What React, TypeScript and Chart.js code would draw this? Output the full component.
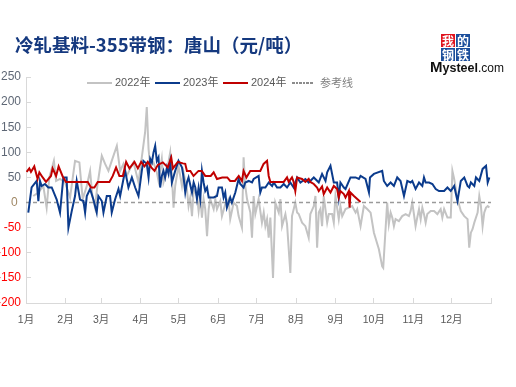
import React, { useEffect, useRef } from 'react';
import { Chart, registerables } from 'chart.js';

Chart.register(...registerables);

// x = day of year (0..365), y = price spread (元/吨)
const monthStarts = [0, 31, 59, 90, 120, 151, 181, 212, 243, 273, 304, 334, 365];
const monthLabels = ['1月', '2月', '3月', '4月', '5月', '6月', '7月', '8月', '9月', '10月', '11月', '12月', ''];
const yMin = -200;
const yMax = 250;
const yStep = 50;

const refLine: [number, number][] = [[0, 0], [365, 0]];

const series2024: [number, number][] = [
  [0.5, 61], [2, 66], [2.6, 68], [3.9, 61], [6.5, 72], [9.1, 47], [10.5, 60], [13.1, 50], [15.7, 41], [19.6, 53],
  [20.9, 68], [23.6, 53], [25.6, 72], [28.8, 52], [31.4, 41], [48.5, 41], [51, 30], [53.7, 30], [56.3, 41], [65.5, 41],
  [68.1, 53], [70.7, 70], [73.3, 53], [76, 53], [78.6, 81], [81.2, 68], [85.1, 81], [87.8, 68], [90.4, 81], [93, 72],
  [95.6, 81], [98.3, 70], [100.9, 63], [103.5, 75], [107.4, 80], [111.3, 70], [114, 90], [115.3, 68], [119.2, 81], [123.1, 78],
  [125, 77], [126.3, 63], [129, 63], [131.5, 53], [135.4, 63], [138, 63], [140.7, 53], [145, 53], [147.3, 60], [149.9, 47],
  [154, 50], [158, 50], [160.3, 43], [164, 43], [167, 53], [169.5, 43], [170.8, 63], [173, 50], [176, 63], [183.9, 63],
  [186.5, 77], [189.2, 83], [190.5, 53], [191.8, 41], [202.3, 41], [204.9, 50], [206.2, 41], [208.8, 50], [210.1, 41], [211.4, 23],
  [212.8, 50], [216.7, 47], [219.3, 41], [221.9, 47], [223.2, 41], [225.9, 37], [228.5, 30], [229.8, 23], [232.4, 32], [233.7, 17],
  [236.4, 30], [239, 20], [241.6, 33], [244.2, 27], [245.5, 10], [246.8, 23], [249.5, 17], [250.8, 10], [253.4, 23], [254, -10],
  [254.7, 20], [257.4, 13], [260, 7], [262.6, 1],
];

const series2023: [number, number][] = [
  [1.8, -20], [4.4, 30], [8.4, 43], [9.7, 3], [11, 43], [12.3, 33], [14.9, 37], [17.5, 30], [20.2, 30], [24.1, 6],
  [26.7, -20], [29.3, 50], [31.9, 50], [33.3, -50], [35.9, -17], [38.5, 13], [39.8, 43], [42.4, 6], [45.1, 3], [46.4, -20],
  [47.7, 13], [50.3, 27], [52.9, 6], [55.5, -20], [56.8, 13], [59.5, 3], [60.8, -20], [63.4, 13], [66, 13], [67.3, -20],
  [69.9, 6], [72.6, 27], [73.9, 13], [76.5, 47], [77.8, 63], [80.4, 30], [83.1, 50], [85.7, 30], [88.3, 13], [90.9, 63],
  [92.2, 83], [94.8, 77], [96.2, 50], [97.5, 87], [98.8, 80], [100.1, 100], [101.4, 113], [102.7, 83], [104, 90], [105.3, 30],
  [106.6, 53], [107.9, 63], [109.2, 50], [110.6, 70], [111.9, 57], [113.2, 80], [114.5, 40], [117.1, 63], [119.7, 83], [122.4, 70],
  [123.7, 50], [125, 20], [126.3, 40], [127.6, 50], [130.3, 20], [131.6, 40], [132.9, 30], [134.2, 7], [135.5, 30], [136.8, 7],
  [138.1, 63], [139.4, 40], [140.7, 23], [142.1, 30], [143.4, 10], [147.3, 10], [149.9, 13], [151.2, 30], [153.8, 30], [155.1, 10],
  [156.4, 20], [157.7, -10], [160.3, 10], [161.6, 0], [164.3, 20], [166.9, 47], [168.2, 37], [170.8, 30], [172.1, 40], [174.8, 43],
  [177.4, 40], [178.7, 47], [182.6, 53], [183.9, 20], [185.2, 30], [187.9, 30], [190.5, 40], [193.2, 33], [194.5, 40], [197.1, 30],
  [199.7, 30], [202.3, 37], [204.9, 30], [207.5, 40], [210.1, 30], [212.8, 50], [215.4, 40], [219.3, 47], [221.9, 40], [225.9, 50],
  [229.8, 40], [232.4, 57], [235.1, 43], [236.4, 60], [239, 73], [241.6, 40], [244.2, 40], [245.5, 10], [246.8, 40], [249.5, 30],
  [250.8, 27], [254.7, 50], [258.7, 50], [261.3, 47], [262.6, 53], [266.5, 47], [269.2, 20], [270, 50], [273.1, 57], [279.6, 63],
  [280.9, 43], [283.5, 33], [286.2, 40], [288.8, 33], [291.4, 50], [294, 43], [296.7, 13], [299.3, 43], [301.9, 40], [303.2, 43],
  [305.8, 27], [308.5, 40], [311.1, 33], [312.4, 50], [313.7, 40], [316.4, 40], [319, 37], [321.6, 27], [324.2, 23], [328.2, 23],
  [330.8, 30], [333.4, 23], [336.1, 33], [338.7, 3], [341.3, 43], [344, 50], [346.6, 33], [347.9, 30], [349.2, 40], [351.9, 33],
  [353.2, 50], [355.8, 43], [358.4, 67], [361.1, 73], [362.4, 40], [363.7, 50],
];

const series2022: [number, number][] = [
  [5.7, 13], [9.7, 20], [13.6, 33], [16.2, -10], [18.3, 50], [21.9, 83], [23.6, 43], [26.7, 47], [30.6, 40], [34.6, 10],
  [38.5, 83], [41.9, 80], [44.5, 7], [47.7, 33], [50.3, 63], [52.1, 13], [54.2, -10], [56, 33], [59.5, 93], [62.1, 77],
  [64.7, 63], [67.3, 83], [71.3, 113], [73.9, 63], [76.5, 77], [79.1, 53], [81.7, 67], [84.4, 80], [88.3, 40], [90.9, 90],
  [93.5, 140], [94.8, 190], [96.2, 107], [97.5, 73], [100.1, 80], [102.7, 60], [104, 43], [106.6, 87], [107.9, 40], [110.6, 63],
  [113.2, 100], [114.5, 53], [115.8, -10], [117.1, 33], [119.7, 73], [122.4, 33], [123.7, 60], [126.3, 27], [127.6, -7], [128.9, 10],
  [130.3, -27], [131.6, 27], [134.2, 13], [135.5, -17], [136.8, 10], [138.1, -30], [139.4, 7], [140.7, -13], [142.1, -67], [143.4, -13],
  [144.6, 7], [147.3, -13], [148.6, 7], [149.9, -13], [152.5, 3], [153.8, -27], [156.4, -3], [159, 7], [160.3, -33], [163, 0],
  [165.6, -7], [166.9, -27], [169.5, -50], [170.8, 90], [172.1, 33], [173.5, 7], [176.1, -20], [177.4, -70], [178.7, 13], [180, -23],
  [182.6, 7], [185.2, -40], [186.6, -20], [187.9, -47], [189.2, -33], [190.5, -70], [191.8, -30], [193.9, -150], [195.7, 0], [198.4, -20],
  [199.7, 7], [201, -47], [203.6, -23], [204.9, -43], [207.5, -140], [208.8, -27], [211.4, 0], [212.8, -20], [214.1, -23], [216.7, -40],
  [219.3, -47], [221.9, -70], [223.2, -23], [225.9, -7], [227.2, 13], [228.5, -90], [229.8, -20], [231.1, -13], [232.4, -47], [233.7, 13],
  [236.4, -40], [237.7, -23], [240.3, -23], [241.6, -40], [242.9, 13], [245.5, -33], [246.8, -7], [248.2, -27], [250.8, -13], [253.4, -10],
  [256, -7], [258.7, -20], [260, -13], [262.6, -47], [265.2, -7], [267.8, -13], [270.5, -20], [273.1, -60], [277, -93], [279.6, -127],
  [280.4, -130], [283.5, 0], [284.8, -43], [286.2, -20], [287.5, -30], [288.8, -47], [290.1, -33], [292.7, -37], [295.3, -27], [298, -23],
  [300.6, -27], [301.9, -17], [303.2, 0], [304.5, -23], [305.8, -47], [307.1, -30], [308.5, -13], [309.8, -33], [311.1, -10], [312.4, -23],
  [313.7, -40], [315, -23], [317.7, -17], [320.3, -17], [322.9, -23], [325.5, -13], [326.8, -30], [328.2, -13], [330.8, -30], [333.4, -30],
  [334.7, 63], [336.1, 47], [338.7, 7], [341.3, -17], [344, -27], [346.6, -33], [347.9, -90], [349.2, -60], [350.5, -53], [351.9, -40],
  [354.5, -20], [355.8, 13], [357.1, -7], [358.4, -47], [359.7, -20], [361.1, -10], [362.4, -7], [363.7, -10],
];

const toPoints = (s: [number, number][]) => s.map(([x, y]) => ({ x, y }));

const FONT = '"Liberation Sans", Arial, "Noto Sans CJK SC", sans-serif';
const CJK = '"Noto Sans CJK SC", "Liberation Sans", sans-serif';

export default function App() {
  const canvasRef = useRef<HTMLCanvasElement | null>(null);

  useEffect(() => {
    if (!canvasRef.current) return;
    const chart = new Chart(canvasRef.current, {
      type: 'line',
      data: {
        datasets: [
          { label: '2024年', data: toPoints(series2024), borderColor: '#c00000', borderWidth: 2, pointRadius: 0, order: 0 },
          { label: '2023年', data: toPoints(series2023), borderColor: '#0b3b8c', borderWidth: 2, pointRadius: 0, order: 1 },
          { label: '参考线', data: toPoints(refLine), borderColor: '#9a9a9a', borderWidth: 1.5, borderDash: [4, 3], pointRadius: 0, order: 2 },
          { label: '2022年', data: toPoints(series2022), borderColor: '#c3c3c3', borderWidth: 2, pointRadius: 0, order: 3 },
        ],
      },
      options: {
        responsive: false,
        animation: false,
        layout: { padding: { top: 77, right: 25, left: 0, bottom: 0 } },
        plugins: { legend: { display: false }, tooltip: { enabled: false }, title: { display: false } },
        elements: { line: { tension: 0 } },
        scales: {
          x: {
            type: 'linear',
            min: 0,
            max: 365,
            afterBuildTicks: (s: any) => {
              s.ticks = monthStarts.map((v) => ({ value: v }));
            },
            afterFit: (s: any) => {
              s.height = 84;
            },
            ticks: {
              autoSkip: false,
              maxRotation: 0,
              padding: 16,
              color: '#595959',
              font: { size: 10.5, family: FONT },
              callback: (_v: any, i: number) => monthLabels[i],
            },
            grid: { drawOnChartArea: false, drawTicks: true, tickLength: -5, color: '#d9d9d9' },
            border: { color: '#d9d9d9' },
          },
          y: {
            min: yMin,
            max: yMax,
            afterFit: (s: any) => {
              s.width = 26;
            },
            ticks: {
              stepSize: yStep,
              padding: 10,
              font: { size: 12, family: FONT },
              color: (ctx: any) => {
                const v = ctx.tick ? ctx.tick.value : 1;
                if (v < 0) return '#ff0000';
                if (v === 0) return '#a08866';
                return '#5f6876';
              },
              callback: (v: any) => (Number(v) === 0 ? '0 ' : String(v)),
            },
            grid: { drawOnChartArea: false, drawTicks: true, tickLength: -5, color: '#d9d9d9' },
            border: { color: '#d9d9d9' },
          },
        },
      },
    });
    return () => chart.destroy();
  }, []);

  const legendText: React.CSSProperties = {
    position: 'absolute',
    top: 75,
    fontSize: 11,
    lineHeight: '15px',
    color: '#595959',
    fontFamily: FONT,
    whiteSpace: 'nowrap',
  };
  const legendLine = (left: number, width: number, color: string): React.CSSProperties => ({
    position: 'absolute',
    left,
    top: 82,
    width,
    height: 2,
    background: color,
  });
  const box = (bg: string): React.CSSProperties => ({
    background: bg,
    color: '#fff',
    fontFamily: CJK,
    fontWeight: 700,
    fontSize: 12,
    lineHeight: '13px',
    height: 13,
    textAlign: 'center',
  });

  return (
    <div style={{ position: 'fixed', left: 0, top: 0, width: 516, height: 387, background: '#fff', overflow: 'hidden' }}>
      <canvas ref={canvasRef} width={516} height={387} style={{ display: 'block', position: 'absolute', left: 0, top: 0 }} />
      <div
        style={{
          position: 'absolute',
          left: 15,
          top: 33,
          fontSize: 18.5,
          lineHeight: '22px',
          fontWeight: 700,
          fontFamily: CJK,
          color: '#15397f',
          whiteSpace: 'nowrap',
        }}
      >
        冷轧基料-355带钢：唐山（元/吨）
      </div>

      <div
        style={{
          position: 'absolute',
          left: 441,
          top: 34,
          display: 'grid',
          gridTemplateColumns: '14px 14px',
          columnGap: 1,
          rowGap: 1,
        }}
      >
        <div style={box('#e0141e')}>我</div>
        <div style={box('#1c4f9c')}>的</div>
        <div style={box('#1c4f9c')}>钢</div>
        <div style={box('#1c4f9c')}>铁</div>
      </div>
      <div
        style={{
          position: 'absolute',
          left: 430,
          top: 58,
          display: 'flex',
          alignItems: 'baseline',
          fontFamily: FONT,
          color: '#111',
          whiteSpace: 'nowrap',
        }}
      >
        <span style={{ fontSize: 15, fontWeight: 700 }}>M</span>
        <span style={{ fontSize: 12.5, fontWeight: 700 }}>ysteel</span>
        <span style={{ fontSize: 12, fontWeight: 400 }}>.com</span>
      </div>

      <div style={legendLine(87, 25, '#c3c3c3')} />
      <div style={{ ...legendText, left: 115 }}>2022年</div>
      <div style={legendLine(155, 25, '#0b3b8c')} />
      <div style={{ ...legendText, left: 183 }}>2023年</div>
      <div style={legendLine(223, 25, '#c00000')} />
      <div style={{ ...legendText, left: 251 }}>2024年</div>
      <div
        style={{
          position: 'absolute',
          left: 292,
          top: 82,
          width: 21,
          height: 1.5,
          background: 'repeating-linear-gradient(90deg, #8c8c8c 0 2.5px, transparent 2.5px 3.6px)',
        }}
      />
      <div style={{ ...legendText, left: 320, color: '#808080', fontFamily: CJK }}>参考线</div>
    </div>
  );
}
